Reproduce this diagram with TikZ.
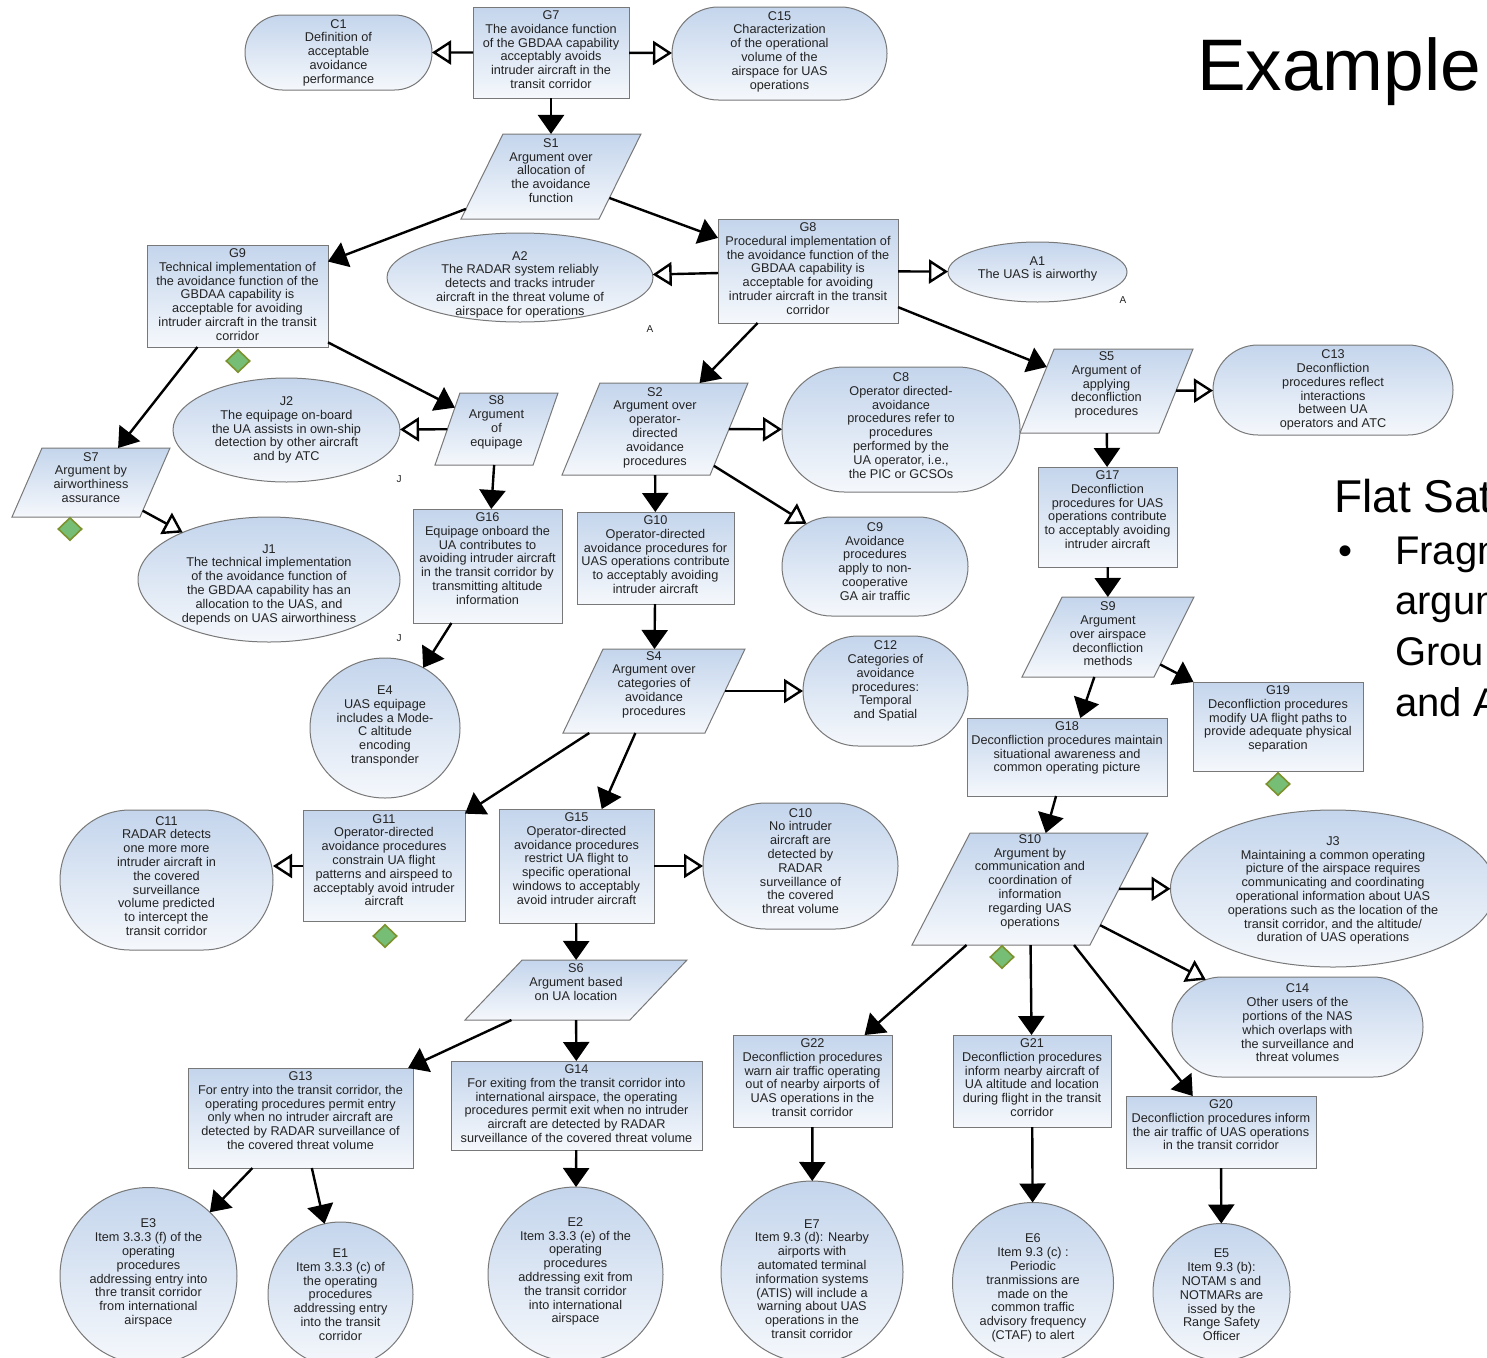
\documentclass[tikz,border=0pt]{standalone}
\usepackage{fontspec}
\setmainfont{Liberation Sans}
\usetikzlibrary{shapes.geometric,shapes.misc,arrows.meta}

\definecolor{gsntop}{RGB}{196,213,236}
\definecolor{gsnbot}{RGB}{245,248,252}
\definecolor{gsnline}{RGB}{120,120,120}
\definecolor{gsntext}{RGB}{35,35,35}
\definecolor{undevfill}{RGB}{118,190,118}
\definecolor{undevline}{RGB}{125,145,45}

\newcommand\gsnfont{\fontsize{12.7}{13.8}\selectfont}

\tikzset{
  gsnshape/.style={draw=gsnline, line width=1pt, top color=gsntop, bottom color=gsnbot, inner sep=0pt, outer sep=0pt},
  txt/.style={align=center, text=gsntext, font=\gsnfont, inner sep=0pt},
  goal/.style={gsnshape, rectangle},
  ctx/.style={gsnshape, rounded rectangle},
  asm/.style={gsnshape, ellipse},
  sol/.style={gsnshape, ellipse},
  % parallelogram: left angle, right angle, half height
  strat/.style n args={3}{gsnshape, trapezium, trapezium left angle=#1, trapezium right angle=#2,
    trapezium stretches body, text height=#3pt, text depth=#3pt},
  sz/.style 2 args={minimum width=#1pt, minimum height=#2pt},
  gtext/.style={label={[txt, anchor=north, yshift=-3.5pt]north:{#1}}},
  ctext/.style 2 args={label={[txt, yshift=#1pt]center:{#2}}},
  support/.style={line width=2.4pt, -{Triangle[length=19pt,width=26pt]}},
  incontext/.style={line width=2.4pt, -{Triangle[open,length=19pt,width=24pt]}},
  undev/.style={diamond, draw=undevline, fill=undevfill, line width=1.6pt, minimum width=24pt, minimum height=23pt, inner sep=0pt},
  tag/.style={font=\fontsize{10}{10}\selectfont, text=gsntext, inner sep=0pt},
  slide/.style={anchor=base west, inner sep=0pt, text=black},
}

\begin{document}
\begin{tikzpicture}[x=1pt,y=-1pt]
\useasboundingbox (0,0) rectangle (1487,1357);
\clip (0,0) rectangle (1487,1357);
\fill[white] (0,0) rectangle (1487,1357);

% ---------- goals ----------
\node[goal, sz={156}{91}, gtext={G7\\The avoidance function\\of the GBDAA capability\\acceptably avoids\\intruder aircraft in the\\transit corridor}] (G7) at (551,52.5) {};
\node[goal, sz={181}{102}, gtext={G9\\Technical implementation of\\the avoidance function of the\\GBDAA capability is\\acceptable for avoiding\\intruder aircraft in the transit\\corridor}] (G9) at (237.5,296) {};
\node[goal, sz={180}{104}, gtext={G8\\Procedural implementation of\\the avoidance function of the\\GBDAA capability is\\acceptable for avoiding\\intruder aircraft in the transit\\corridor}] (G8) at (808,271) {};
\node[goal, sz={149}{114}, gtext={G16\\Equipage onboard the\\UA contributes to\\avoiding intruder aircraft\\in the transit corridor by\\transmitting altitude\\information}] (G16) at (487.5,566) {};
\node[goal, sz={157}{92}, gtext={G10\\Operator-directed\\avoidance procedures for\\UAS operations contribute\\to acceptably avoiding\\intruder aircraft}] (G10) at (655.5,558) {};
\node[goal, sz={139}{100}, gtext={G17\\Deconfliction\\procedures for UAS\\operations contribute\\to acceptably avoiding\\intruder aircraft}] (G17) at (1107.5,517) {};
\node[goal, sz={170}{89}, gtext={G19\\Deconfliction procedures\\modify UA flight paths to\\provide adequate physical\\separation}] (G19) at (1278,726.5) {};
\node[goal, sz={200}{78}, gtext={G18\\Deconfliction procedures maintain\\situational awareness and\\common operating picture}] (G18) at (1067,757) {};
\node[goal, sz={162}{111}, gtext={G11\\Operator-directed\\avoidance procedures\\constrain UA flight\\patterns and airspeed to\\acceptably avoid intruder\\aircraft}] (G11) at (384,866) {};
\node[goal, sz={155}{114}, gtext={G15\\Operator-directed\\avoidance procedures\\restrict UA flight to\\specific operational\\windows to acceptably\\avoid intruder aircraft}] (G15) at (576.5,866) {};
\node[goal, sz={225}{100}, gtext={G13\\For entry into the transit corridor, the\\operating procedures permit entry\\only when no intruder aircraft are\\detected by RADAR surveillance of\\the covered threat volume}] (G13) at (300.5,1118) {};
\node[goal, sz={251}{89}, gtext={G14\\For exiting from the transit corridor into\\international airspace, the operating\\procedures permit exit when no intruder\\aircraft are detected by RADAR\\surveillance of the covered threat volume}] (G14) at (576.5,1105.5) {};
\node[goal, sz={159}{92}, gtext={G22\\Deconfliction procedures\\warn air traffic operating\\out of nearby airports of\\UAS operations in the\\transit corridor}] (G22) at (812.5,1081) {};
\node[goal, sz={158}{92}, gtext={G21\\Deconfliction procedures\\inform nearby aircraft of\\UA altitude and location\\during flight in the transit\\corridor}] (G21) at (1032,1081) {};
\node[goal, sz={190}{72}, gtext={G20\\Deconfliction procedures inform\\the air traffic of UAS operations\\in the transit corridor}] (G20) at (1221,1132) {};

% ---------- strategies ----------
\node[strat={63.7}{116.3}{42.5}, sz={180}{85}, ctext={6}{S1\\Argument over\\allocation of\\the avoidance\\function}] (S1) at (551,176.5) {};
\node[strat={67.6}{112.4}{46}, sz={186}{92}, ctext={1.5}{S2\\Argument over\\operator-\\directed\\avoidance\\procedures}] (S2) at (655,429) {};
\node[strat={64.5}{115.5}{42}, sz={182}{84}, ctext={6.5}{S4\\Argument over\\categories of\\avoidance\\procedures}] (S4) at (654,691) {};
\node[strat={67.9}{112.1}{42}, sz={173}{84}, ctext={6}{S5\\Argument of\\applying\\deconfliction\\procedures}] (S5) at (1106.5,391) {};
\node[strat={46.4}{133.6}{30}, sz={222}{60}, ctext={8}{S6\\Argument based\\on UA location}] (S6) at (576,990) {};
\node[strat={66.5}{113.5}{34.5}, sz={158}{69}, ctext={5}{S7\\Argument by\\airworthiness\\assurance}] (S7) at (91,482.5) {};
\node[strat={70.9}{109.1}{36}, sz={123}{72}, ctext={6.5}{S8\\Argument\\of\\equipage}] (S8) at (496.5,429) {};
\node[strat={63.4}{116.6}{40}, sz={172}{80}, ctext={3}{S9\\Argument\\over airspace\\deconfliction\\methods}] (S9) at (1108,637) {};
\node[strat={62.6}{117.4}{56}, sz={236}{112}, ctext={7.5}{S10\\Argument by\\communication and\\coordination of\\information\\regarding UAS\\operations}] (S10) at (1030,889) {};

% ---------- contexts ----------
\node[ctx, sz={187}{75}, ctext={0}{C1\\Definition of\\acceptable\\avoidance\\performance}] (C1) at (338.5,52.5) {};
\node[ctx, sz={215}{93}, ctext={2}{C15\\Characterization\\of the operational\\volume of the\\airspace for UAS\\operations}] (C15) at (779.5,53.5) {};
\node[ctx, sz={238}{125}, ctext={4}{C8\\Operator directed-\\avoidance\\procedures refer to\\procedures\\performed by the\\UA operator, i.e.,\\the PIC or GCSOs}] (C8) at (901,429.5) {};
\node[ctx, sz={186}{99}, ctext={5}{C9\\Avoidance\\procedures\\apply to non-\\cooperative\\GA air traffic}] (C9) at (875,566.5) {};
\node[ctx, sz={165}{110}, ctext={10}{C12\\Categories of\\avoidance\\procedures:\\Temporal\\and Spatial}] (C12) at (885.5,691) {};
\node[ctx, sz={195}{126}, ctext={5}{C10\\No intruder\\aircraft are\\detected by\\RADAR\\surveillance of\\the covered\\threat volume}] (C10) at (800.5,866) {};
\node[ctx, sz={213}{140}, ctext={4}{C11\\RADAR detects\\one more more\\intruder aircraft in\\the covered\\surveillance\\volume predicted\\to intercept the\\transit corridor}] (C11) at (166.5,880) {};
\node[ctx, sz={240}{90}, ctext={0}{C13\\Deconfliction\\procedures reflect\\interactions\\between UA\\operators and ATC}] (C13) at (1333,390) {};
\node[ctx, sz={251}{100}, ctext={4}{C14\\Other users of the\\portions of the NAS\\which overlaps with\\the surveillance and\\threat volumes}] (C14) at (1297.5,1027) {};

% ---------- assumptions and justifications ----------
\node[asm, sz={266}{89}, ctext={-7}{A2\\The RADAR system reliably\\detects and tracks intruder\\aircraft in the threat volume of\\airspace for operations}] (A2) at (520,277.5) {};
\node[asm, sz={179}{60}, ctext={3}{A1\\The UAS is airworthy}] (A1) at (1037.5,272) {};
\node[asm, sz={227}{104}, ctext={0}{J2\\The equipage on-board\\the UA assists in own-ship\\detection by other aircraft\\and by ATC}] (J2) at (286.5,430) {};
\node[asm, sz={262}{125}, ctext={-5}{J1\\The technical implementation\\of the avoidance function of\\the GBDAA capability has an\\allocation to the UAS, and\\depends on UAS airworthiness}] (J1) at (269,579.5) {};
\node[asm, sz={325}{157}, ctext={-2}{J3\\Maintaining a common operating\\picture of the airspace requires\\communicating and coordinating\\operational information about UAS\\operations such as the location of the\\transit corridor, and the altitude/\\duration of UAS operations}] (J3) at (1333,888.5) {};

\node[tag] (A2tag) at (650,329) {A};
\node[tag] (A1tag) at (1123,300) {A};
\node[tag] (J2tag) at (399,479) {J};
\node[tag] (J1tag) at (399,638) {J};

% ---------- solutions ----------
\node[sol, sz={150}{140}, ctext={2}{E4\\UAS equipage\\includes a Mode-\\C altitude\\encoding\\transponder}] (E4) at (385,728) {};
\node[sol, sz={177}{177}, ctext={3}{E3\\Item 3.3.3 (f) of the\\operating\\procedures\\addressing entry into\\thre transit corridor\\from international\\airspace}] (E3) at (148.5,1276) {};
\node[sol, sz={145}{145}, ctext={0}{E1\\Item 3.3.3 (c) of\\the operating\\procedures\\addressing entry\\into the transit\\corridor}] (E1) at (340.5,1294.5) {};
\node[sol, sz={175}{175}, ctext={3}{E2\\Item 3.3.3 (e) of the\\operating\\procedures\\addressing exit from\\the transit corridor\\into international\\airspace}] (E2) at (575.5,1274.5) {};
\node[sol, sz={182}{182}, ctext={-7}{E7\\Item 9.3 (d): Nearby\\airports with\\automated terminal\\information systems\\(ATIS) will include a\\warning about UAS\\operations in the\\transit corridor}] (E7) at (812,1272) {};
\node[sol, sz={161}{161}, ctext={-5}{E6\\Item 9.3 (c) :\\Periodic\\tranmissions are\\made on the\\common traffic\\advisory frequency\\(CTAF) to alert}] (E6) at (1033,1283) {};
\node[sol, sz={137}{137}, ctext={-3}{E5\\Item 9.3 (b):\\NOTAM s and\\NOTMARs are\\issed by the\\Range Safety\\Officer}] (E5) at (1221.5,1292) {};

% ---------- undeveloped markers ----------
\node[undev] (G9u) at (238,361) {};
\node[undev] (S7u) at (70,529) {};
\node[undev] (G11u) at (385,936) {};
\node[undev] (G19u) at (1278,784) {};
\node[undev] (S10u) at (1002,957) {};

% ---------- connectors ----------
\draw[incontext] (G7) -- (C1);
\draw[incontext] (G7) -- (C15);
\draw[support] (G7) -- (S1);
\draw[support] (S1) -- (G9);
\draw[support] (S1) -- (G8);
\draw[incontext] (G8) -- (A2);
\draw[incontext] (G8) -- (A1);
\draw[support] (G8) -- (S2);
\draw[support] (G8) -- (S5);
\draw[support] (G9) -- (S7);
\draw[support] (G9) -- (S8);
\draw[incontext] (S7) -- (J1);
\draw[incontext] (S8) -- (J2);
\draw[support] (S8) -- (G16);
\draw[support] (G16) -- (E4);
\draw[incontext] (S2) -- (C8);
\draw[incontext] (S2) -- (C9);
\draw[support] (S2) -- (G10);
\draw[support] (G10) -- (S4);
\draw[incontext] (S4) -- (C12);
\draw[support] (S4) -- (G11);
\draw[support] (S4) -- (G15);
\draw[incontext] (G11.west) -- (G11.west -| C11.east);
\draw[incontext] (G15) -- (C10);
\draw[support] (G15) -- (S6);
\draw[support] (S6) -- (G13);
\draw[support] (S6) -- (G14);
\draw[support] (G13) -- (E3);
\draw[support] (G13) -- (E1);
\draw[support] (G14) -- (E2);
\draw[incontext] (S5) -- (C13);
\draw[support] (S5) -- (G17);
\draw[support] (G17) -- (S9);
\draw[support] (S9) -- (G19);
\draw[support] (S9) -- (G18);
\draw[support] (G18) -- (S10);
\draw[incontext] (S10) -- (J3);
\draw[incontext] (S10) -- (C14);
\draw[support] (S10) -- (G22);
\draw[support] (S10) -- (G21);
\draw[support] (S10) -- (G20);
\draw[support] (G22) -- (E7);
\draw[support] (G21) -- (E6);
\draw[support] (G20) -- (E5);

% ---------- slide text ----------
\node[slide, font=\fontsize{73}{80}\selectfont] (title) at (1197,90) {Example};
\node[slide, font=\fontsize{46}{50}\selectfont] (subtitle) at (1334,512) {Flat Sat};
\node[slide, font=\fontsize{40}{44}\selectfont] (bullet) at (1338,564) {•};
\node[slide, font=\fontsize{40}{44}\selectfont] (lineA) at (1395,564) {Fragm};
\node[slide, font=\fontsize{40}{44}\selectfont] (lineB) at (1395,614) {argum};
\node[slide, font=\fontsize{40}{44}\selectfont] (lineC) at (1395,665) {Grou};
\node[slide, font=\fontsize{40}{44}\selectfont] (lineD) at (1395,716) {and A};
\end{tikzpicture}
\end{document}
